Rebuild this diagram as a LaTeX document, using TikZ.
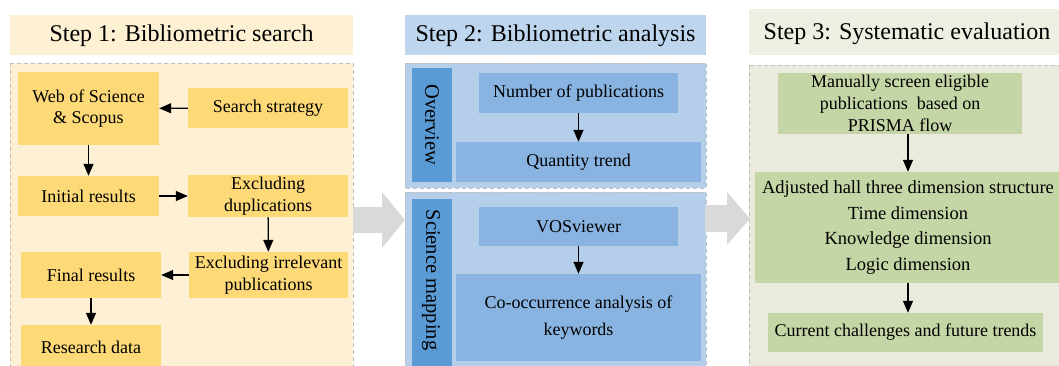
\documentclass[tikz,border=0pt]{standalone}
\usepackage{fontspec}
\setmainfont{Liberation Serif}
\usetikzlibrary{arrows.meta}

\definecolor{oneTitle}{HTML}{FDF0D3}
\definecolor{oneBack}{HTML}{FEF0D5}
\definecolor{oneBox}{HTML}{FDD978}
\definecolor{twoTitle}{HTML}{BDD6EE}
\definecolor{twoBack}{HTML}{B5CFEB}
\definecolor{twoTab}{HTML}{5B9BD5}
\definecolor{twoBox}{HTML}{89B4E1}
\definecolor{threeTitle}{HTML}{EEEEE2}
\definecolor{threeBack}{HTML}{EBEBDD}
\definecolor{threeBox}{HTML}{C5D6A6}
\definecolor{frameGray}{HTML}{BFBFBF}
\definecolor{bigArrow}{HTML}{D9D9D9}

\tikzset{
  body/.style={font=\fontsize{18}{21.6}\selectfont, align=center, inner sep=2pt, text=black},
  stepTitle/.style={font=\fontsize{24}{28}\selectfont, inner sep=0pt, text=black},
  goldbox/.style={body, fill=oneBox},
  bluebox/.style={body, fill=twoBox},
  greenbox/.style={body, fill=threeBox},
  tabbox/.style={fill=twoTab, inner sep=0pt, font=\fontsize{20.5}{24}\selectfont, text=black},
  frame/.style={draw=frameGray, line width=0.9pt, dash pattern=on 4pt off 3pt},
  flow/.style={line width=1.3pt, -{Triangle[length=12pt,width=10pt]}},
  wide/.style={minimum width=#1 pt},
  tall/.style={minimum height=#1 pt},
}

\begin{document}
\begin{tikzpicture}[x=1pt,y=-1pt]
\useasboundingbox (0,0) rectangle (1059,366);
\clip (0,0) rectangle (1059,366);

% ---------- Step 1 ----------
\fill[oneTitle] (10,15) rectangle (353,55);
\node[stepTitle] (t1) at (181.5,36) {Step 1: Bibliometric search};
\filldraw[fill=oneBack, frame] (10,63) rectangle (353,380);

\node[goldbox, wide=141, tall=73] (wos) at (88.5,108.5) {Web of Science\\\& Scopus};
\node[goldbox, wide=160, tall=40] (search) at (268,108) {Search strategy};
\node[goldbox, wide=141, tall=40] (initial) at (88.5,196) {Initial results};
\node[goldbox, wide=160, tall=40, font=\fontsize{18}{22}\selectfont] (dup) at (268,196) {Excluding\\duplications};
\node[goldbox, wide=159, tall=46] (irr) at (268.5,275) {Excluding irrelevant\\publications};
\node[goldbox, wide=140, tall=46] (final) at (91,275) {Final results};
\node[goldbox, wide=140, tall=44] (research) at (91,347) {Research data};

\draw[flow] (search) -- (wos);
\draw[flow] (wos) -- (initial);
\draw[flow] (initial) -- (dup);
\draw[flow] (dup) -- (irr);
\draw[flow] (irr) -- (final);
\draw[flow] (final) -- (research);

% arrow from step 1 to step 2
\fill[bigArrow] (353,207) -- (382,207) -- (382,192) -- (405,220) -- (382,248) -- (382,233) -- (353,233) -- cycle;

% ---------- Step 2 ----------
\fill[twoTitle] (405,15) rectangle (706,55);
\node[stepTitle] (t2) at (555.5,36) {Step 2: Bibliometric analysis};

\filldraw[fill=twoBack, frame] (405,63) rectangle (706,188);
\node[tabbox, minimum width=40pt, minimum height=114pt] (ov) at (432,125) {};
\node[rotate=-90, font=\fontsize{20.5}{24}\selectfont] at (ov.center) {Overview};
\node[bluebox, wide=199, tall=40] (num) at (578.5,93) {Number of publications};
\node[bluebox, wide=245, tall=40] (qty) at (578.5,162) {Quantity trend};
\draw[flow] (num) -- (qty);

\filldraw[fill=twoBack, frame] (405,192) rectangle (706,380);
\node[tabbox, minimum width=40pt, minimum height=168pt] (sm) at (432,283) {};
\node[rotate=-90, font=\fontsize{20.5}{24}\selectfont] at (431,280) {Science mapping};
\node[bluebox, wide=199, tall=39] (vos) at (578.5,226.5) {VOSviewer};
\node[bluebox, wide=245, tall=87, font=\fontsize{18}{27.5}\selectfont] (cooc) at (578.5,317.5) {Co-occurrence analysis of\\keywords};
\draw[flow] (vos) -- (cooc);

% arrow from step 2 to step 3
\fill[bigArrow] (705,205) -- (727,205) -- (727,192) -- (750,218.5) -- (727,245) -- (727,232) -- (705,232) -- cycle;

% ---------- Step 3 ----------
\fill[threeTitle] (749,9) rectangle (1065,55);
\node[stepTitle] (t3) at (907,34) {Step 3: Systematic evaluation};
\filldraw[fill=threeBack, frame] (749,65) rectangle (1070,380);

\node[greenbox, wide=244, tall=61, font=\fontsize{18}{22}\selectfont] (manual) at (900,103.5)
  {Manually screen eligible\\publications\ \ based on\\PRISMA flow};
\node[greenbox, wide=306, tall=111, font=\fontsize{18.5}{25.5}\selectfont] (adj) at (908,227.5)
  {Adjusted hall three dimension structure\\Time dimension\\Knowledge dimension\\Logic dimension};
\node[greenbox, wide=275, tall=39] (cur) at (905.5,332.5) {Current challenges and future trends};

\draw[flow] (adj.north |- manual.south) -- (adj.north);
\draw[flow] (adj.south) -- (adj.south |- cur.north);
\end{tikzpicture}
\end{document}
